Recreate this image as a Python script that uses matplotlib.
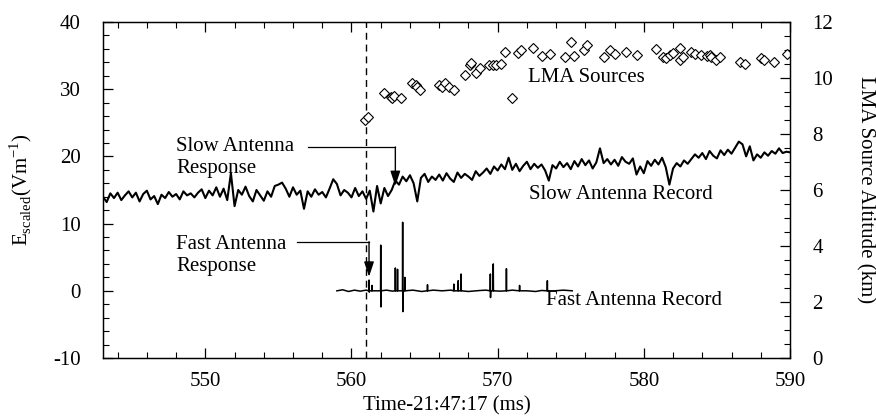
import numpy as np
import matplotlib
matplotlib.use('Agg')
import matplotlib.pyplot as plt
from matplotlib.ticker import MultipleLocator

plt.rcParams['font.family'] = ['Liberation Serif', 'DejaVu Serif']
plt.rcParams['mathtext.fontset'] = 'custom'
plt.rcParams['mathtext.rm'] = 'Liberation Serif'
plt.rcParams['axes.unicode_minus'] = False

# slow antenna record, sampled every 0.25 ms from 543 to 590 ms (values in V/m)
slow_v = [
    14.0, 13.2, 14.5, 13.8,  14.6, 13.5, 14.2, 14.8,  13.9, 14.6, 13.3, 14.4,
    14.9, 13.6, 14.1, 12.9,  14.3, 13.8, 14.7, 14.0,  14.4, 13.6, 14.8, 14.2,
    14.5, 13.9, 14.6, 15.1,  13.8, 14.9, 14.2, 15.4,  14.0, 15.2, 13.5, 17.5,
    12.6, 15.0, 14.3, 15.5,  14.1, 13.3, 15.0, 14.2,  13.4, 14.8, 14.0, 15.6,
    15.8, 16.1, 15.2, 14.0,  15.4, 14.3, 14.9, 12.2,  14.8, 14.0, 15.1, 14.3,
    14.7, 13.9, 15.2, 16.6,  15.9, 14.2, 15.0, 14.6,  13.9, 15.3, 14.1, 14.8,
    13.7, 14.9, 11.8, 15.6,  13.0, 15.3, 14.1, 15.0,  16.4, 15.8, 17.0, 16.3,
    17.2, 16.0, 13.3, 16.8,  17.4, 16.2, 17.0, 16.5,  17.3, 16.4, 17.5, 16.7,
    16.2, 17.6, 16.8, 17.4,  17.0, 16.5, 17.8, 17.1,  17.6, 18.2, 17.4, 18.5,
    17.9, 18.8, 18.1, 19.8,  18.0, 18.9, 17.8, 18.6,  19.2, 18.1, 18.9, 18.3,
    18.8, 17.9, 16.4, 18.7,  18.2, 19.2, 18.4, 19.0,  18.1, 19.3, 18.5, 19.6,
    18.7, 19.4, 18.2, 19.1,  21.2, 19.0, 19.6, 18.8,  19.5, 18.6, 19.9, 19.2,
    18.9, 19.7, 17.3, 18.5,  17.5, 19.3, 18.6, 19.5,  18.8, 19.8, 18.4, 15.8,
    18.2, 19.0, 18.5, 19.4,  18.9, 19.6, 20.3, 19.8,  20.5, 19.6, 20.8, 20.1,
    19.7, 20.9, 20.2, 21.0,  20.4, 21.3, 22.2, 21.8,  20.0, 21.5, 19.4, 20.3,
    19.8, 20.6, 20.1, 20.8,  20.4, 21.2, 20.5, 20.7,  20.6,
]
slow_t = 543 + 0.25 * np.arange(len(slow_v))

# fast antenna record: quiet baseline (ms, V/m) plus spikes (ms, peak, trough)
fast_base_t = [559.0, 559.4, 559.8, 560.2, 560.6, 561.0, 561.6, 562.4, 562.8,
               564.2, 564.8, 565.6, 566.2, 566.8, 568.0, 568.8, 569.2, 570.2,
               571.0, 572.0, 572.6, 573.0, 573.9, 574.5, 575.1]
fast_base_v = [0.0, 0.15, -0.1, 0.1, -0.05, 0.1, 0.0, 0.1, -0.05,
               0.1, -0.1, 0.1, 0.0, 0.1, -0.1, 0.05, 0.1, -0.05,
               0.1, 0.0, -0.1, 0.05, 0.0, 0.1, 0.0]
spike_t = [561.2, 561.4, 562.0, 563.0, 563.15, 563.5, 563.65, 565.2, 567.0,
           567.3, 567.5, 569.5, 569.7, 570.6, 571.5, 573.4]
spike_top = [1.6, 0.8, 6.8, 3.4, 3.2, 10.2, 2.0, 0.9, 1.0,
             1.5, 2.5, 2.5, 4.0, 3.3, 0.8, 1.5]
spike_bot = [-0.2, 0.0, -2.4, 0.0, 0.0, -3.1, 0.0, 0.0, 0.0,
             0.0, 0.0, -1.0, 0.0, 0.0, 0.0, 0.0]

# LMA sources (ms, km)
lma_t = [560.9, 561.1, 562.2, 562.7, 562.8, 562.9, 563.4, 564.15, 564.4, 564.5,
         564.7, 566.0, 566.2, 566.4, 566.7, 567.0, 567.8, 568.1, 568.2, 568.5,
         568.8, 569.4, 569.7, 569.9, 570.2, 570.5, 571.0, 571.4, 571.6, 572.4,
         573.0, 573.6, 574.6, 575.0, 575.2, 575.9, 576.1, 577.3, 577.7, 578.0,
         578.8, 579.5, 580.85, 581.3, 581.5, 581.8, 582.0, 582.45, 582.45, 582.7,
         583.2, 583.5, 583.9, 584.3, 584.5, 584.6, 584.95, 585.2, 586.6, 586.9,
         588.0, 588.2, 588.9, 589.8]
lma_alt = [8.5, 8.6, 9.45, 9.33, 9.27, 9.36, 9.27, 9.83, 9.75, 9.69,
           9.57, 9.75, 9.69, 9.81, 9.69, 9.57, 10.11, 10.46, 10.52, 10.17,
           10.35, 10.46, 10.46, 10.46, 10.5, 10.94, 9.27, 10.9, 11.0, 11.06,
           10.79, 10.86, 10.76, 11.3, 10.79, 11.0, 11.18, 10.76, 11.0, 10.86,
           10.94, 10.82, 11.02, 10.76, 10.7, 10.82, 10.88, 11.06, 10.64, 10.76,
           10.94, 10.86, 10.82, 10.79, 10.82, 10.74, 10.64, 10.76, 10.58, 10.5,
           10.7, 10.64, 10.58, 10.86]

# merge baseline and spikes into one trace
pts = list(zip(fast_base_t, fast_base_v))
for t, top, bot in zip(spike_t, spike_top, spike_bot):
    pts += [(t - 0.012, 0.0), (t, top), (t + 0.012, bot), (t + 0.024, 0.0)]
pts.sort()
fast_t = [p[0] for p in pts]
fast_v = [p[1] for p in pts]

fs = 15
fig = plt.figure(figsize=(8.76, 4.18), dpi=100)
ax = fig.add_axes([0.1176, 0.1435, 0.7842, 0.8039])
ax2 = ax.twinx()

ax.plot(slow_t, slow_v, color='black', lw=1.5)
ax.plot(fast_t, fast_v, color='black', lw=1.1)
ax.axvline(561.0, color='black', lw=1.0, ls=(0, (5, 3.5)))
ax2.plot(lma_t, lma_alt, ls='none', marker='D', ms=5, mfc='white',
         mec='black', mew=0.8)

# annotation arrows
arrow = dict(arrowstyle='-|>,head_width=0.3,head_length=0.9', color='black',
             lw=1.0, shrinkA=0, shrinkB=0)
ax.plot([557.0, 563.0], [21.4, 21.4], color='black', lw=0.9)
ax.annotate('', xy=(563.0, 15.6), xytext=(563.0, 21.4), arrowprops=arrow)
ax.plot([556.3, 561.2], [7.3, 7.3], color='black', lw=0.9)
ax.annotate('', xy=(561.2, 2.1), xytext=(561.2, 7.3), arrowprops=arrow)

ax.text(548.0, 19.8, 'Slow Antenna\nResponse', fontsize=fs, va='center',
        ha='left', linespacing=1.2)
ax.text(548.0, 5.3, 'Fast Antenna\nResponse', fontsize=fs, va='center',
        ha='left', linespacing=1.2)
ax.text(578.4, 14.3, 'Slow Antenna Record', fontsize=fs, ha='center', va='center')
ax.text(579.3, -1.4, 'Fast Antenna Record', fontsize=fs, ha='center', va='center')
ax2.text(576.1, 10.0, 'LMA Sources', fontsize=fs, ha='center', va='center')

ax.set_xlim(543, 590)
ax.set_ylim(-10, 40)
ax2.set_ylim(0, 12)

ax.xaxis.set_major_locator(MultipleLocator(10))
ax.xaxis.set_minor_locator(MultipleLocator(2))
ax.yaxis.set_major_locator(MultipleLocator(10))
ax.yaxis.set_minor_locator(MultipleLocator(2))
ax2.yaxis.set_major_locator(MultipleLocator(2))
ax2.yaxis.set_minor_locator(MultipleLocator(0.5))

ax.tick_params(which='both', direction='in', top=True, labelsize=fs)
ax.tick_params(which='major', length=7, width=0.9)
ax.tick_params(which='minor', length=4, width=0.8)
ax.tick_params(axis='y', which='major', pad=16)
ax.tick_params(axis='x', which='major', pad=10)
ax2.tick_params(which='both', direction='in', labelsize=fs)
ax2.tick_params(which='major', length=7, width=0.9, pad=16)
ax2.tick_params(which='minor', length=4, width=0.8)

ax.set_xlabel('Time-21:47:17 (ms)', fontsize=fs, labelpad=4)
ax.set_ylabel(r'E$_{\mathrm{scaled}}$(Vm$^{\mathrm{-1}}$)', fontsize=fs, labelpad=14)
ax2.set_ylabel('LMA Source Altitude (km)', fontsize=fs, rotation=270, labelpad=30)

for a in (ax, ax2):
    for s in a.spines.values():
        s.set_linewidth(0.9)

fig.savefig('out.png', dpi=100)
